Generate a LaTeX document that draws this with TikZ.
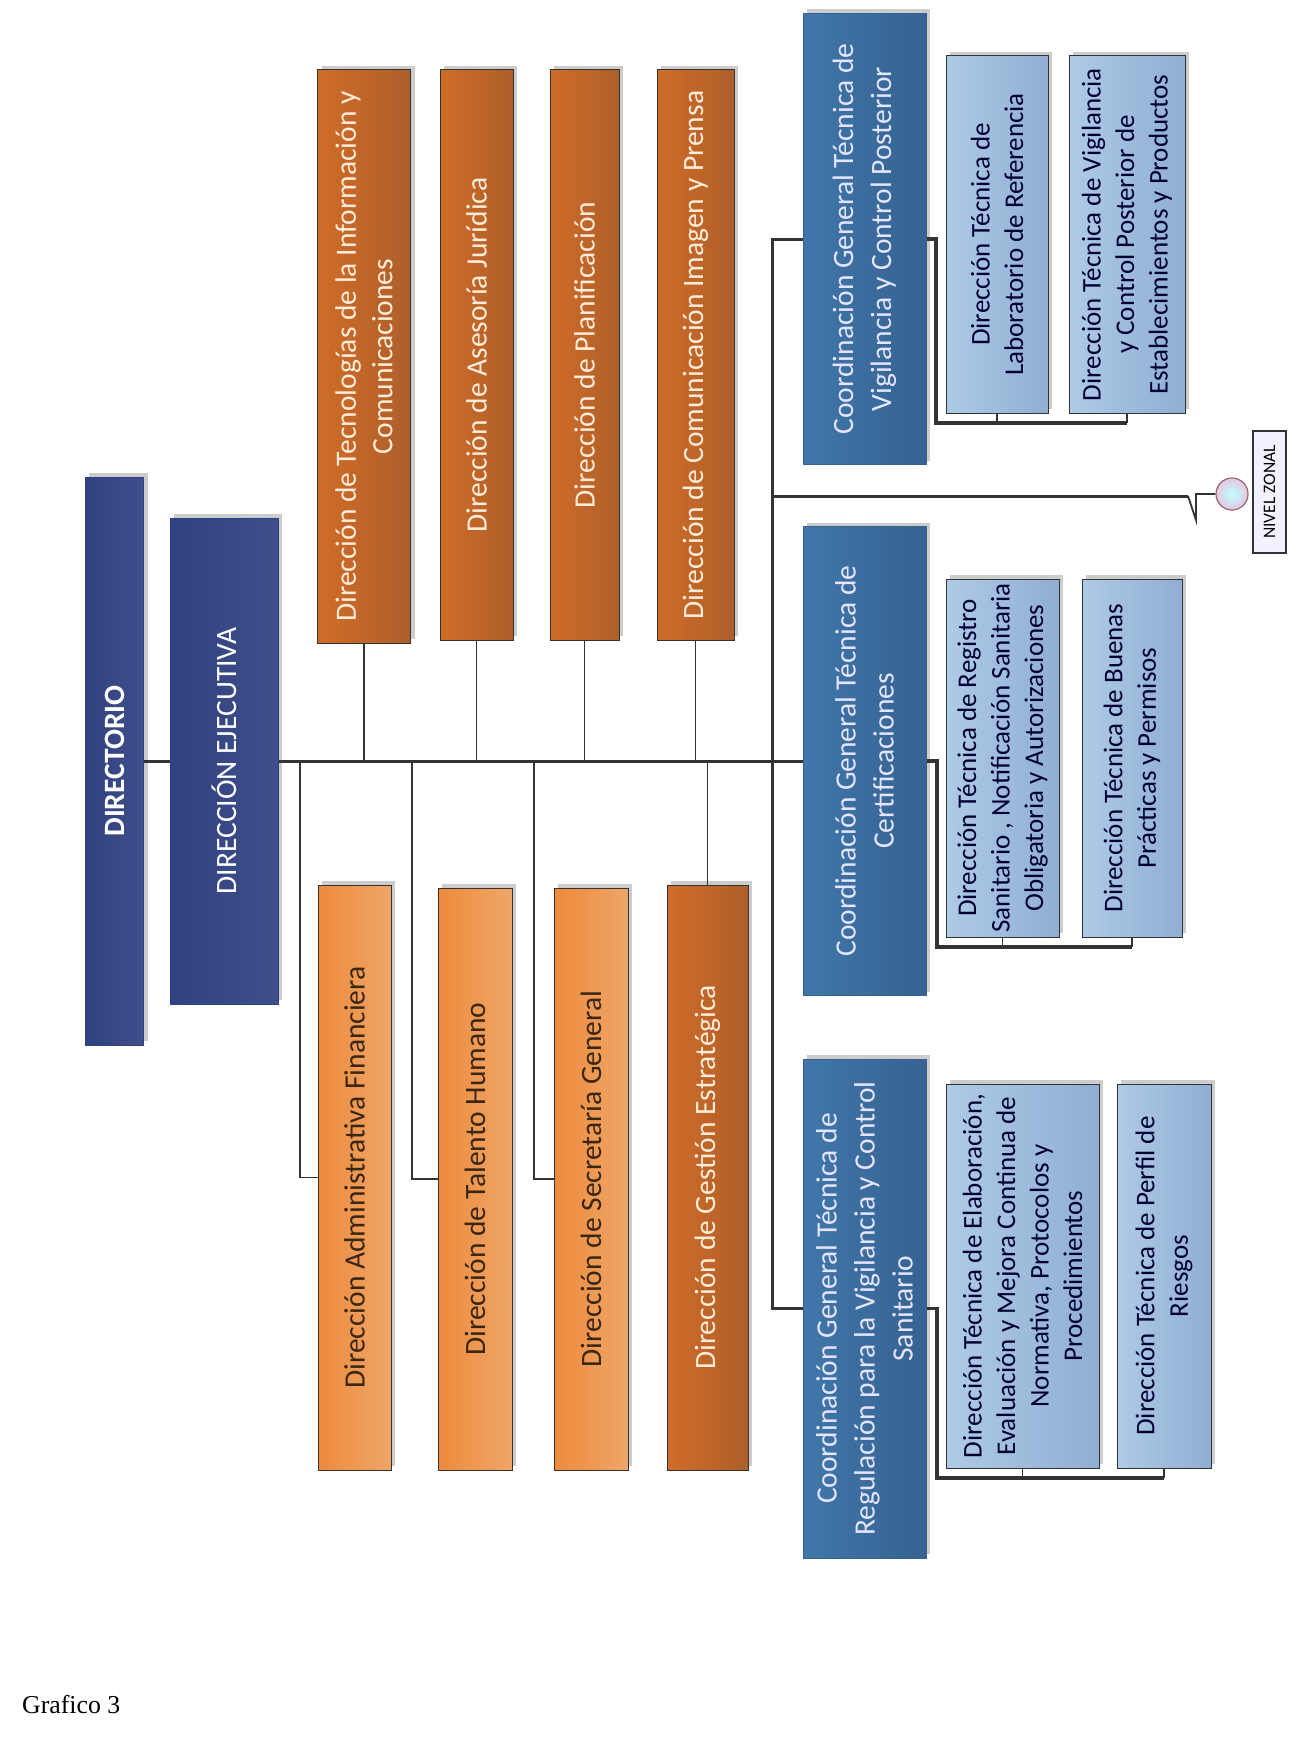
\documentclass[tikz,border=0pt]{standalone}
\usepackage{fontspec}
\usepackage{xcolor}
\usetikzlibrary{shadows}
\setmainfont{Carlito}
\newfontfamily\capfont{Liberation Serif}
\definecolor{navy-a}{HTML}{2F4180}
\definecolor{navy-b}{HTML}{3F4F8A}
\definecolor{rust-a}{HTML}{D06C28}
\definecolor{rust-b}{HTML}{AE5F2A}
\definecolor{peach-a}{HTML}{EE8A3C}
\definecolor{peach-b}{HTML}{EEA668}
\definecolor{steel-a}{HTML}{4077AA}
\definecolor{steel-b}{HTML}{356291}
\definecolor{sky-a}{HTML}{AECAE6}
\definecolor{sky-b}{HTML}{8FAED2}
\definecolor{wire-a}{HTML}{333333}

\begin{document}
\begin{tikzpicture}
[
x=1pt, y=-1pt,
box-a/.style={rectangle, draw=wire-a, line width=1pt, rotate=90, align=center, inner sep=0pt,
              drop shadow={shadow xshift=4pt, shadow yshift=4pt, fill=gray, opacity=.4}},
box-navy/.style={box-a, left color=navy-a, right color=navy-b, draw=navy-a, text=white, font=\fontsize{29.5}{36}\selectfont},
box-rust/.style={box-a, left color=rust-a, right color=rust-b, text=white!85!orange, font=\fontsize{29.5}{36.5}\selectfont},
box-peach/.style={box-a, left color=peach-a, right color=peach-b, text=black!70!brown, font=\fontsize{29.5}{36.5}\selectfont},
box-steel/.style={box-a, left color=steel-a, right color=steel-b, draw=steel-b, text=white!90!blue, font=\fontsize{29.5}{38}\selectfont},
box-sky/.style={box-a, left color=sky-a, right color=sky-b, text=black!80!blue, font=\fontsize{27}{33.5}\selectfont},
wire-thin/.style={draw=wire-a, line width=1.8pt},
wire-main/.style={draw=wire-a, line width=3pt},
wire-sub/.style={draw=wire-a, line width=3.2pt}
]
\useasboundingbox (0,0) rectangle (1299,1761);

\node (dir)  [box-navy, minimum width=568pt, minimum height=58.5pt, font=\bfseries\fontsize{29.5}{36}\selectfont] at (114.5,761) {DIRECTORIO};
\node (eje)  [box-navy, minimum width=486pt, minimum height=108pt] at (224,761) {DIRECCIÓN EJECUTIVA};

\node (tec)  [box-rust, minimum width=573pt, minimum height=93pt] at (364,356.5) {Dirección de Tecnologías de la Información y\\Comunicaciones};
\node (ase)  [box-rust, minimum width=570pt, minimum height=73pt] at (476.5,355) {Dirección de Asesoría Jurídica};
\node (pla)  [box-rust, minimum width=570pt, minimum height=69pt] at (584.5,355) {Dirección de Planificación};
\node (com)  [box-rust, minimum width=570pt, minimum height=77pt] at (695.5,355) {Dirección de Comunicación Imagen y Prensa};

\node (adm)  [box-peach, minimum width=585pt, minimum height=73pt] at (354.5,1177.5) {Dirección Administrativa Financiera};
\node (tal)  [box-peach, minimum width=582pt, minimum height=74pt] at (475,1179) {Dirección de Talento Humano};
\node (sec)  [box-peach, minimum width=582pt, minimum height=74pt] at (591,1179) {Dirección de Secretaría General};
\node (ges)  [box-rust,  minimum width=585pt, minimum height=81pt] at (707.5,1177.5) {Dirección de Gestión Estratégica};

\node (vig)  [box-steel, minimum width=451.5pt, minimum height=123pt] at (864.5,239) {Coordinación General Técnica de\\Vigilancia y Control Posterior};
\node (cer)  [box-steel, minimum width=469pt, minimum height=123pt] at (864.5,761) {Coordinación General Técnica de\\Certificaciones};
\node (reg)  [box-steel, minimum width=499pt, minimum height=123pt] at (864.5,1308.5) {Coordinación General Técnica de\\Regulación para la Vigilancia y Control\\Sanitario};

\node (lab)  [box-sky, minimum width=357pt, minimum height=102pt] at (997,234.5) {Dirección Técnica de\\Laboratorio de Referencia};
\node (vpc)  [box-sky, minimum width=357pt, minimum height=116pt] at (1127,234.5) {Dirección Técnica de Vigilancia\\y Control Posterior de\\Establecimientos y Productos};
\node (rns)  [box-sky, minimum width=358pt, minimum height=113pt] at (1002.5,758) {Dirección Técnica de Registro\\Sanitario , Notificación Sanitaria\\Obligatoria y Autorizaciones};
\node (bue)  [box-sky, minimum width=358pt, minimum height=100pt] at (1132,758) {Dirección Técnica de Buenas\\Prácticas y Permisos};
\node (ela)  [box-sky, minimum width=384pt, minimum height=153pt] at (1022.5,1276) {Dirección Técnica de Elaboración,\\Evaluación y Mejora Continua de\\Normativa, Protocolos y\\Procedimientos};
\node (per)  [box-sky, minimum width=384pt, minimum height=94pt] at (1164,1276) {Dirección Técnica de Perfil de\\Riesgos};

\node (zon)  [rectangle, draw=wire-a, line width=1.2pt, fill=blue!5, rotate=90, inner sep=0pt, minimum width=122pt, minimum height=33pt, font=\fontsize{17.5}{20}\selectfont] at (1269.5,492) {NIVEL ZONAL};
\node (cir)  [circle, draw=red!35!black!60, line width=1.2pt, inner color=cyan!25, outer color=violet!22, inner sep=0pt, minimum size=32pt] at (1232,494) {};
\node (cap)  [anchor=west, inner sep=0pt, font=\capfont\fontsize{25.8}{30}\selectfont] at (22,1705) {Grafico 3};

\coordinate (main-adm) at (300,761);
\coordinate (main-tal) at (411.7,761);
\coordinate (main-sec) at (534,761);
\coordinate (bus)      at (772,761);
\coordinate (bus-zon)  at (772,496);
\coordinate (zig-a)    at (1188,496);
\coordinate (zig-b)    at (1196,520);
\coordinate (zig-c)    at (1196,494);
\coordinate (low-vig)  at (936,423);
\coordinate (low-cer)  at (937,947);
\coordinate (low-reg)  at (937,1478);

\draw [wire-main] (dir.south) -- (eje.north);
\draw [wire-main] (eje.south) -- (cer.north);
\draw [wire-main] (vig.north) -| (bus);
\draw [wire-main] (reg.north) -| (bus);
\draw [wire-main] (bus-zon) -- (zig-a);
\draw [wire-thin] (zig-a) -- (zig-b) -- (zig-c) -- (cir.west);

\draw [wire-thin] (tec.west) -- (tec.west |- bus);
\draw [wire-thin] (ase.west) -- (ase.west |- bus);
\draw [wire-thin] (pla.west) -- (pla.west |- bus);
\draw [wire-thin] (com.west) -- (com.west |- bus);
\draw [wire-thin] (ges.east) -- (ges.east |- bus);
\draw [wire-thin] (adm.north) -| (main-adm);
\draw [wire-thin] (tal.north) -| (main-tal);
\draw [wire-thin] (sec.north) -| (main-sec);

\draw [wire-sub] (vig.south) -| (low-vig) -- (low-vig -| vpc.west);
\draw [wire-sub] (cer.south) -| (low-cer) -- (low-cer -| bue.west);
\draw [wire-sub] (reg.south) -| (low-reg) -- (low-reg -| per.west);
\draw [wire-thin] (lab.west) -- (lab.west |- low-vig);
\draw [wire-thin] (vpc.west) -- (vpc.west |- low-vig);
\draw [wire-thin] (rns.west) -- (rns.west |- low-cer);
\draw [wire-thin] (bue.west) -- (bue.west |- low-cer);
\draw [wire-thin] (ela.west) -- (ela.west |- low-reg);
\draw [wire-thin] (per.west) -- (per.west |- low-reg);
\end{tikzpicture}
\end{document}
